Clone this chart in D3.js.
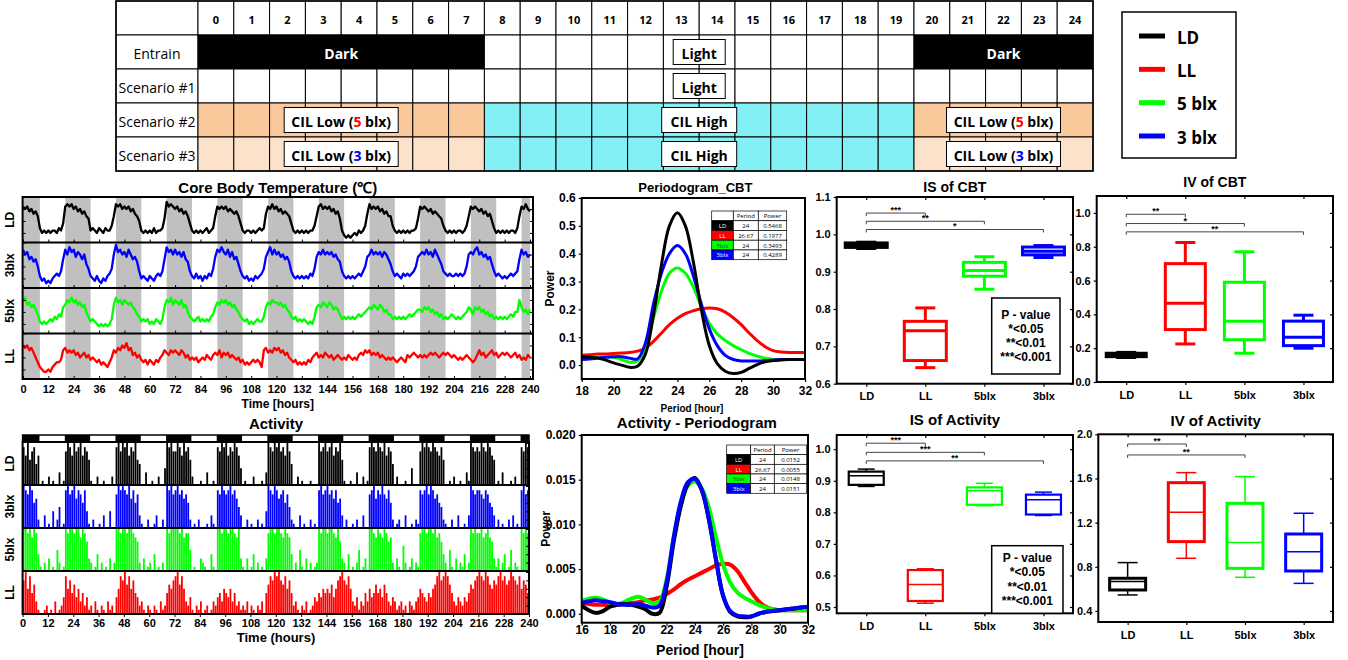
<!DOCTYPE html>
<html><head><meta charset="utf-8">
<script src="https://cdn.jsdelivr.net/npm/d3@7"></script>
<style>body{margin:0;background:#fff}svg{display:block}</style>
</head><body><svg id="c" width="1348" height="660"></svg>
<script>
// ---------------- DATA ----------------
const groups = ["LD","LL","5blx","3blx"];
const rowGroups = ["LD","3blx","5blx","LL"];
const groupColor = {"LD":"#000000","LL":"#ff0000","5blx":"#00ff00","3blx":"#0000ff"};

// protocol table
const tableHours = ["0","1","2","3","4","5","6","7","8","9","10","11","12","13","14","15","16","17","18","19","20","21","22","23","24"];
const hourPhase = ["D","D","D","D","D","D","D","D","L","L","L","L","L","L","L","L","L","L","L","L","D","D","D","D","D"];
const tableRows = ["Entrain","Scenario #1","Scenario #2","Scenario #3"];
const legendLabels = ["LD","LL","5 blx","3 blx"];

// dark periods (hours) for time-series panels
const darkSpans = [[0,8],[20,32],[44,56],[68,80],[92,104],[116,128],[140,152],[164,176],[188,200],[212,224],[236,240]];
const timeTicks = [0,12,24,36,48,60,72,84,96,108,120,132,144,156,168,180,192,204,216,228,240];

// core body temperature, hourly (°C)
const cbtLD = [
37.6,37.5,37.6,37.4,37.5,37.3,37.4,37.2,36.7,36.5,36.6,36.5,
36.6,36.5,36.6,36.6,36.5,36.7,36.6,36.9,37.6,37.7,37.6,37.7,
37.5,37.6,37.4,37.5,37.3,37.4,37.2,37.1,36.6,36.7,36.6,36.5,
36.7,36.6,36.5,36.7,36.6,36.6,36.8,37.2,37.7,37.6,37.7,37.5,
37.6,37.5,37.6,37.4,37.5,37.3,37.2,37.0,36.6,36.5,36.6,36.5,
36.6,36.5,36.7,36.5,36.6,36.6,36.7,37.1,37.8,37.6,37.7,37.6,
37.5,37.6,37.4,37.5,37.3,37.4,37.2,36.9,36.6,36.5,36.6,36.5,
36.6,36.5,36.6,36.7,36.5,36.6,36.7,37.2,37.6,37.5,37.6,37.5,
37.6,37.4,37.5,37.4,37.3,37.4,37.2,36.9,36.6,36.5,36.6,36.6,
36.5,36.6,36.5,36.6,36.7,36.6,36.7,37.3,37.6,37.5,37.7,37.5,
37.6,37.4,37.5,37.3,37.4,37.3,37.2,36.9,36.6,36.5,36.6,36.5,
36.6,36.5,36.6,36.5,36.6,36.6,36.8,37.2,37.6,37.7,37.5,37.6,
37.5,37.6,37.4,37.5,37.3,37.4,37.1,36.6,36.4,36.3,36.4,36.3,
36.4,36.5,36.4,36.6,36.5,36.6,36.8,37.3,37.7,37.5,37.6,37.5,
37.6,37.4,37.5,37.3,37.4,37.2,37.2,36.8,36.6,36.5,36.6,36.5,
36.6,36.5,36.6,36.5,36.6,36.6,36.7,37.1,37.6,37.5,37.6,37.5,
37.4,37.5,37.3,37.4,37.3,37.2,37.1,36.8,36.6,36.5,36.6,36.5,
36.6,36.5,36.6,36.6,36.5,36.6,36.8,37.2,37.6,37.5,37.6,37.5,
37.4,37.5,37.3,37.4,37.2,37.3,37.0,36.7,36.5,36.6,36.5,36.6,
36.5,36.6,36.5,36.6,36.6,36.5,36.7,37.2,37.6,37.5,37.7,37.5,
37.4];
const cbt3blx = [
37.7,37.5,37.6,37.3,37.4,37.2,37.3,37.0,36.6,36.4,36.5,36.3,
36.4,36.3,36.5,36.6,36.7,36.6,36.8,37.3,37.7,37.5,37.8,37.6,
37.7,37.4,37.6,37.5,37.3,37.5,37.1,36.9,36.6,36.5,36.4,36.6,
36.4,36.3,36.5,36.4,36.6,36.7,36.9,37.5,37.9,37.6,37.7,37.5,
37.6,37.4,37.7,37.5,37.3,37.4,37.2,36.8,36.5,36.6,36.5,36.4,
36.6,36.5,36.4,36.6,36.7,36.6,36.8,37.3,37.8,37.6,37.7,37.5,
37.7,37.5,37.6,37.4,37.6,37.3,37.2,36.8,36.6,36.5,36.7,36.5,
36.6,36.4,36.6,36.5,36.7,36.6,36.9,37.4,37.7,37.6,37.8,37.6,
37.5,37.7,37.4,37.6,37.3,37.4,37.1,36.8,36.6,36.5,36.6,36.4,
36.5,36.4,36.6,36.5,36.6,36.7,36.9,37.4,37.6,37.8,37.5,37.7,
37.5,37.6,37.4,37.5,37.3,37.4,37.2,36.8,36.6,36.5,36.6,36.5,
36.6,36.5,36.6,36.5,36.7,36.6,36.9,37.4,37.6,37.5,37.7,37.5,
37.6,37.5,37.6,37.4,37.5,37.3,37.2,36.8,36.6,36.5,36.6,36.5,
36.6,36.5,36.6,36.7,36.6,36.8,37.0,37.4,37.5,37.7,37.5,37.6,
37.5,37.6,37.4,37.6,37.5,37.3,37.1,36.8,36.6,36.7,36.6,36.5,
36.7,36.6,36.7,36.6,36.7,36.8,37.0,37.4,37.5,37.6,37.5,37.7,
37.5,37.6,37.4,37.7,37.5,37.3,37.1,36.8,36.7,36.6,36.7,36.6,
36.6,36.7,36.6,36.7,36.6,36.7,37.0,37.5,37.6,37.5,37.7,37.8,
37.5,37.6,37.4,37.5,37.3,37.4,37.1,36.8,36.6,36.7,36.6,36.5,
36.6,36.5,36.6,36.7,36.6,36.7,36.8,37.3,37.7,37.5,37.6,37.4,
37.5];
const cbt5blx = [
37.5,37.6,37.3,37.4,37.2,37.3,37.1,36.9,36.6,36.5,36.6,36.5,
36.6,36.7,36.6,36.8,36.7,36.9,36.8,37.2,37.3,37.5,37.4,37.6,
37.4,37.5,37.3,37.4,37.2,37.3,37.0,36.8,36.6,36.7,36.6,36.5,
36.4,36.5,36.4,36.5,36.4,36.5,36.7,37.3,37.6,37.4,37.5,37.3,
37.5,37.4,37.3,37.4,37.2,37.1,36.9,36.8,36.6,36.7,36.6,36.7,
36.5,36.6,36.5,36.7,36.6,36.5,36.7,37.2,37.5,37.4,37.6,37.3,
37.5,37.4,37.3,37.5,37.2,37.3,37.0,36.8,36.7,36.6,36.7,36.8,
36.6,36.7,36.6,36.7,36.6,36.8,36.9,37.2,37.4,37.3,37.5,37.4,
37.5,37.3,37.4,37.2,37.3,37.1,37.0,36.8,36.7,36.6,36.7,36.5,
36.6,36.5,36.6,36.7,36.6,36.6,36.8,37.2,37.4,37.3,37.5,37.4,
37.4,37.3,37.4,37.2,37.3,37.1,37.0,36.8,36.7,36.8,36.6,36.7,
36.6,36.7,36.6,36.5,36.6,36.5,36.8,37.2,37.3,37.2,37.4,37.3,
37.2,37.4,37.3,37.1,37.2,37.1,36.9,36.7,36.8,36.7,36.8,36.7,
36.8,36.7,36.8,36.9,36.8,36.9,37.0,37.1,37.2,37.1,37.3,37.2,
37.1,37.3,37.2,37.0,37.1,36.9,36.9,36.7,36.8,36.7,36.8,36.7,
36.8,36.7,36.8,36.9,36.8,36.9,37.0,37.1,37.1,37.0,37.2,37.1,
37.2,37.0,37.1,36.9,37.0,36.8,36.9,36.7,36.8,36.7,36.8,36.9,
36.8,36.7,36.8,36.7,36.8,36.9,37.0,37.2,37.1,36.9,37.2,37.1,
37.2,37.0,37.1,36.9,37.0,36.8,36.9,36.7,36.8,36.7,36.8,36.7,
36.8,36.7,36.8,36.9,36.8,37.0,37.0,37.5,37.2,37.0,37.1,36.9,
37.1];
const cbtLL = [
37.5,37.4,37.5,37.3,37.4,37.2,37.0,36.8,36.6,36.5,36.4,36.4,
36.5,36.4,36.6,36.7,36.8,36.8,36.9,37.3,37.4,37.2,37.3,37.2,
37.3,37.1,37.2,37.0,37.1,37.2,37.0,37.1,36.9,37.0,36.9,36.8,
36.9,36.7,36.8,36.7,36.6,36.8,37.0,37.3,37.2,37.4,37.3,37.5,
37.4,37.6,37.3,37.4,37.1,37.2,37.0,37.1,36.9,36.8,36.9,36.7,
36.9,36.8,36.7,36.9,36.8,37.0,37.1,37.3,37.2,37.1,37.3,37.2,
37.3,37.2,37.1,37.3,37.2,37.0,37.1,36.9,37.0,36.9,37.0,36.8,
36.9,37.0,36.9,37.1,37.0,36.9,37.1,37.2,37.1,37.3,37.0,37.2,
37.1,37.2,37.0,37.1,37.0,36.9,37.0,36.8,36.9,36.7,36.8,36.7,
36.8,36.9,36.8,36.9,36.8,36.6,37.3,37.4,37.2,37.3,37.2,37.4,
37.3,37.4,37.2,37.3,37.1,37.2,37.0,36.9,36.8,36.9,36.7,36.8,
36.7,36.8,36.7,36.9,36.8,37.0,37.1,37.2,37.0,37.1,37.0,37.2,
37.1,37.0,37.1,36.9,37.0,37.1,37.0,36.9,37.0,36.9,37.1,37.0,
36.9,37.0,36.9,37.1,37.2,37.1,37.3,37.2,37.3,37.1,37.2,37.1,
37.2,37.0,37.1,37.0,36.9,37.0,36.9,37.0,36.9,36.8,36.9,37.0,
36.9,36.8,37.1,37.0,37.1,37.2,37.1,37.0,37.1,37.0,37.1,37.0,
37.1,37.2,37.1,37.2,37.1,37.0,37.1,37.2,37.1,37.2,37.1,37.0,
37.1,37.0,36.9,37.0,36.9,37.0,37.1,37.0,36.9,36.8,36.9,37.1,
37.3,37.1,37.2,37.0,37.1,37.2,37.3,37.1,37.2,37.0,37.1,37.2,
37.1,37.2,37.1,37.0,37.1,37.2,37.0,37.1,36.9,37.0,36.9,37.1,
37.0];

// activity counts per hour (a.u., 0-10)
const actLD = [
9,7,10,6,8,9,5,7,0,1,0,0,2,0,1,0,0,3,0,1,8,10,9,7,
10,8,9,10,7,9,8,6,1,0,0,2,0,0,1,0,0,0,2,0,9,10,8,10,
9,10,7,9,8,10,6,5,0,0,3,0,0,1,0,0,2,0,0,4,10,9,10,8,
8,10,9,7,10,8,9,6,2,0,0,0,1,0,0,3,0,0,1,0,9,8,10,9,
10,7,9,8,10,9,7,4,0,1,0,0,0,2,0,0,0,1,0,3,10,9,8,10,
9,10,8,9,7,10,8,5,0,0,2,0,1,0,0,0,1,0,0,0,10,8,9,10,
8,9,10,7,9,8,10,6,1,0,0,1,0,0,3,0,0,2,0,1,9,10,9,8,
10,9,8,10,7,9,8,5,0,2,0,0,0,1,0,0,4,0,0,0,8,10,9,10,
9,8,10,9,8,7,9,6,0,0,1,0,2,0,0,1,0,0,3,1,10,9,8,9,
8,10,9,8,10,9,7,6,0,1,0,3,0,0,0,1,0,2,0,0,9,8,10,9];
const act3blx = [
10,9,8,10,9,6,7,2,0,0,3,0,1,0,4,0,2,5,0,1,9,10,8,9,
10,7,9,8,6,9,4,1,0,2,0,0,1,0,3,0,0,4,0,0,8,10,9,10,
9,8,10,7,9,6,8,3,1,0,0,2,0,0,1,3,0,0,2,0,10,9,10,8,
9,10,8,9,7,8,6,2,0,1,0,2,0,0,0,1,0,3,1,0,9,8,10,9,
8,9,10,8,9,7,5,3,0,0,2,0,1,0,0,2,0,1,0,4,10,9,8,10,
9,7,8,9,6,8,5,2,1,0,0,3,0,1,0,0,2,0,1,0,9,10,8,9,
10,8,9,7,9,6,7,3,0,2,0,0,1,0,2,0,0,3,0,0,8,9,10,7,
9,8,10,8,7,9,6,2,0,1,2,0,0,3,0,0,1,0,2,1,9,8,9,10,
8,10,9,7,8,6,5,2,1,0,0,2,0,0,3,0,0,1,0,3,10,9,8,9,
9,8,7,9,8,6,5,3,0,2,0,1,0,0,2,0,3,0,1,0,9,10,8,9];
const act5blx = [
10,10,9,10,8,10,9,4,1,0,2,0,3,0,1,0,5,2,0,1,10,9,10,10,
9,10,10,8,10,9,7,3,2,0,1,4,0,2,0,1,0,3,0,2,10,10,9,10,
10,9,10,10,9,8,7,2,0,3,0,1,2,0,4,0,1,0,2,0,10,9,10,10,
10,10,9,10,8,9,9,5,0,1,0,0,3,2,1,0,0,4,1,0,10,10,9,10,
10,9,10,10,9,8,10,3,1,0,3,0,1,4,0,2,0,1,0,3,9,10,10,9,
10,10,9,8,10,9,8,4,0,2,0,5,1,0,3,0,2,0,1,2,10,9,10,10,
9,10,10,9,8,10,7,3,2,0,4,0,1,0,2,5,0,1,3,0,10,10,9,8,
10,9,8,10,9,7,8,2,0,3,1,0,6,2,0,1,3,0,2,1,9,10,10,9,
10,10,9,10,8,9,7,4,2,0,5,1,0,3,0,2,1,4,0,2,10,9,10,9,
9,10,8,9,10,8,7,3,1,3,0,2,4,0,1,5,0,2,1,0,10,9,10,9];
const actLL = [
8,10,6,9,5,7,3,1,0,0,1,2,0,1,0,3,0,1,2,4,9,6,8,5,
7,4,6,3,5,2,4,1,2,0,3,1,0,2,1,0,3,1,2,0,4,6,9,8,
10,7,9,6,8,5,4,2,3,1,0,2,1,0,2,1,0,3,1,2,5,7,6,8,
9,10,7,9,6,3,2,4,1,0,2,1,3,0,1,2,0,1,3,2,4,5,3,6,
5,4,6,3,5,2,3,1,2,1,3,0,2,1,0,2,1,3,0,5,7,9,8,10,
9,10,8,7,9,6,8,5,2,3,1,0,2,1,3,0,1,2,4,3,5,4,6,5,
6,5,7,4,6,8,9,10,8,7,9,6,3,2,4,1,3,2,5,3,6,4,5,7,
5,6,4,7,5,3,2,4,3,1,2,3,1,2,0,3,2,1,3,4,6,5,4,3,
5,4,6,7,9,10,8,9,10,9,7,5,3,2,4,3,2,4,3,5,7,6,8,9,
10,9,8,10,9,7,6,8,7,9,10,8,9,7,8,10,9,8,7,9,6,8,7,5];

// periodograms
const cbtPeriods = [18,18.5,19,19.5,20,20.5,21,21.5,22,22.5,23,23.5,24,24.5,25,25.5,26,26.5,27,27.5,28,28.5,29,29.5,30,30.5,31,31.5,32];
const cbtPowLD   = [0.030,0.028,0.025,0.018,0.008,0.000,-0.008,-0.004,0.040,0.180,0.360,0.500,0.547,0.500,0.370,0.200,0.070,0.005,-0.022,-0.030,-0.026,-0.012,0.002,0.012,0.016,0.018,0.020,0.020,0.020];
const cbtPowLL   = [0.035,0.037,0.040,0.040,0.042,0.043,0.045,0.050,0.060,0.085,0.115,0.145,0.168,0.185,0.195,0.202,0.205,0.202,0.190,0.170,0.145,0.115,0.088,0.066,0.052,0.047,0.045,0.045,0.045];
const cbtPow5blx = [0.025,0.027,0.030,0.030,0.028,0.020,0.010,0.015,0.065,0.170,0.265,0.330,0.349,0.330,0.280,0.210,0.150,0.112,0.088,0.070,0.055,0.042,0.032,0.025,0.020,0.020,0.020,0.020,0.020];
const cbtPow3blx = [0.020,0.022,0.025,0.028,0.030,0.030,0.025,0.022,0.080,0.220,0.330,0.400,0.429,0.400,0.320,0.220,0.130,0.070,0.035,0.020,0.015,0.015,0.015,0.016,0.018,0.020,0.020,0.020,0.020];
const cbtPeakTable = [["LD","24","0.5468"],["LL","26.67","0.1977"],["5blx","24","0.3493"],["3blx","24","0.4289"]];

const actPeriods = [16,16.5,17,17.5,18,18.5,19,19.5,20,20.5,21,21.5,22,22.5,23,23.5,24,24.5,25,25.5,26,26.5,27,27.5,28,28.5,29,29.5,30,30.5,31,31.5,32];
const actPowLD   = [0.0009,0.0004,0.0001,0.0003,0.0008,0.0010,0.0011,0.0010,0.0008,0.0005,0.0000,0.0001,0.0030,0.0080,0.0120,0.0145,0.0152,0.0138,0.0105,0.0060,0.0020,0.0002,-0.0003,-0.0004,-0.0003,0.0000,0.0002,0.0003,0.0004,0.0005,0.0006,0.0007,0.0008];
const actPowLL   = [0.0012,0.0011,0.0010,0.0010,0.0009,0.0010,0.0011,0.0012,0.0013,0.0015,0.0016,0.0018,0.0022,0.0027,0.0033,0.0038,0.0042,0.0046,0.0050,0.0054,0.0056,0.0055,0.0048,0.0036,0.0024,0.0014,0.0008,0.0005,0.0004,0.0004,0.0004,0.0004,0.0004];
const actPow5blx = [0.0014,0.0017,0.0018,0.0016,0.0012,0.0011,0.0013,0.0017,0.0019,0.0016,0.0012,0.0014,0.0038,0.0085,0.0122,0.0143,0.0148,0.0140,0.0118,0.0085,0.0055,0.0035,0.0024,0.0018,0.0014,0.0010,0.0007,0.0005,0.0004,0.0004,0.0004,0.0004,0.0004];
const actPow3blx = [0.0012,0.0014,0.0015,0.0014,0.0013,0.0011,0.0010,0.0010,0.0011,0.0009,0.0007,0.0009,0.0035,0.0085,0.0125,0.0147,0.0151,0.0138,0.0105,0.0060,0.0020,0.0003,-0.0002,-0.0003,-0.0003,0.0000,0.0002,0.0003,0.0004,0.0005,0.0006,0.0007,0.0008];
const actPeakTable = [["LD","24","0.0152"],["LL","26.67","0.0055"],["5blx","24","0.0148"],["3blx","24","0.0151"]];

// box plots: [min, q1, median, q3, max] in order LD, LL, 5blx, 3blx
const isCBT = [[0.962,0.965,0.971,0.977,0.979],[0.643,0.662,0.742,0.767,0.803],[0.853,0.888,0.903,0.925,0.940],[0.938,0.945,0.955,0.966,0.970]];
const ivCBT = [[0.145,0.150,0.160,0.170,0.175],[0.225,0.310,0.465,0.700,0.825],[0.170,0.250,0.360,0.590,0.770],[0.200,0.215,0.265,0.360,0.395]];
const isAct = [[0.882,0.887,0.916,0.929,0.937],[0.512,0.519,0.571,0.617,0.621],[0.821,0.824,0.868,0.879,0.892],[0.790,0.793,0.840,0.856,0.864]];
const ivAct = [[0.545,0.590,0.666,0.696,0.838],[0.877,1.028,1.294,1.562,1.653],[0.705,0.786,1.019,1.375,1.617],[0.650,0.762,0.937,1.097,1.285]];
// significance: [compared group, bar level, stars]
const isCBTSig = [["LL",1.057,"***"],["5blx",1.035,"**"],["3blx",1.013,"*"]];
const ivCBTSig = [["LL",0.992,"**"],["5blx",0.937,"*"],["3blx",0.888,"**"]];
const isActSig = [["LL",1.019,"***"],["5blx",0.990,"***"],["3blx",0.963,"**"]];
const ivActSig = [["LL",1.912,"**"],["5blx",1.813,"**"]];
const pValueLines = ["P - value","*<0.05","**<0.01","***<0.001"];

// ---------------- DRAWING ----------------
const svg = d3.select("#c");
const FONT = "'Liberation Sans', Arial, sans-serif";
const TFONT = "'Open Sans', 'Noto Sans', sans-serif";

function txt(g, x, y, s, size, opts={}) {
  return g.append("text").attr("x",x).attr("y",y).text(s)
    .attr("font-family",opts.family||FONT).attr("font-size",size)
    .attr("font-weight",opts.weight||"bold").attr("fill",opts.fill||"#000")
    .attr("text-anchor",opts.anchor||"middle").attr("dominant-baseline",opts.base||"central");
}
function styleAxis(g, size, sw=1.5) {
  g.select(".domain").remove();
  g.selectAll("text").attr("font-family",FONT).attr("font-weight","bold").attr("font-size",size).attr("fill","#000");
  g.selectAll("line").attr("stroke","#000").attr("stroke-width",sw);
}

// ===== protocol table =====
(function(){
  const g = svg.append("g");
  const hx = d3.scaleBand().domain(tableHours).range([198,1093]);
  const hLin = d3.scaleLinear().domain([0,25]).range([198,1093]);
  const ry = d3.scaleBand().domain(["hdr",...tableRows]).range([1,171]);
  const fills = {
    "Entrain":{D:"#000000",L:"#ffffff"},
    "Scenario #1":{D:"#ffffff",L:"#ffffff"},
    "Scenario #2":{D:"#fac99b",L:"#82f0f5"},
    "Scenario #3":{D:"#fde2cb",L:"#82f0f5"}
  };
  ["hdr",...tableRows].forEach(r=>{
    g.append("rect").attr("x",116).attr("y",ry(r)).attr("width",82).attr("height",ry.bandwidth())
      .attr("fill","#fff").attr("stroke","#000").attr("stroke-width",1);
  });
  tableHours.forEach((h,i)=>{
    g.append("rect").attr("x",hx(h)).attr("y",ry("hdr")).attr("width",hx.bandwidth()).attr("height",ry.bandwidth())
      .attr("fill","#fff").attr("stroke","#000").attr("stroke-width",1);
    txt(g, hx(h)+hx.bandwidth()/2, ry("hdr")+ry.bandwidth()/2+1, h, 11, {family:TFONT});
    tableRows.forEach(r=>{
      g.append("rect").attr("x",hx(h)).attr("y",ry(r)).attr("width",hx.bandwidth()).attr("height",ry.bandwidth())
        .attr("fill",fills[r][hourPhase[i]]).attr("stroke","#000").attr("stroke-width",1);
    });
  });
  tableRows.forEach(r=>{
    txt(g, 157, ry(r)+ry.bandwidth()/2+1, r, 14, {family:TFONT, weight:"normal"});
  });
  g.append("rect").attr("x",116).attr("y",1).attr("width",977).attr("height",170)
    .attr("fill","none").attr("stroke","#000").attr("stroke-width",1.5);
  function tag(row, center, w, parts, boxed, color) {
    const cx = hLin(center), cy = ry(row)+ry.bandwidth()/2;
    if (boxed) g.append("rect").attr("x",cx-w/2).attr("y",cy-12.5).attr("width",w).attr("height",25)
      .attr("fill","#fff").attr("stroke","#000").attr("stroke-width",1);
    const t = g.append("text").attr("x",cx).attr("y",cy+1).attr("text-anchor","middle").attr("dominant-baseline","central")
      .attr("font-family",TFONT).attr("font-weight","bold").attr("font-size",14).attr("fill",color||"#000");
    parts.forEach(p=>t.append("tspan").text(p[0]).attr("fill",p[1]||color||"#000"));
  }
  tag("Entrain",4,0,[["Dark"]],false,"#fff");
  tag("Entrain",22.5,0,[["Dark"]],false,"#fff");
  tag("Entrain",14,52,[["Light"]],true);
  tag("Scenario #1",14,52,[["Light"]],true);
  tag("Scenario #2",4,114,[["CIL Low ("],["5","#ff0000"],[" blx)"]],true);
  tag("Scenario #2",14,75,[["CIL High"]],true);
  tag("Scenario #2",22.5,114,[["CIL Low ("],["5","#ff0000"],[" blx)"]],true);
  tag("Scenario #3",4,114,[["CIL Low ("],["3","#0000ff"],[" blx)"]],true);
  tag("Scenario #3",14,75,[["CIL High"]],true);
  tag("Scenario #3",22.5,114,[["CIL Low ("],["3","#0000ff"],[" blx)"]],true);
})();

// ===== legend =====
(function(){
  const g = svg.append("g");
  g.append("rect").attr("x",1122).attr("y",12).attr("width",114).attr("height",146)
    .attr("fill","#fff").attr("stroke","#000").attr("stroke-width",1.5);
  const ly = d3.scalePoint().domain(groups).range([36,136]);
  groups.forEach((k,i)=>{
    g.append("line").attr("x1",1139).attr("x2",1165).attr("y1",ly(k)).attr("y2",ly(k))
      .attr("stroke",groupColor[k]).attr("stroke-width",5);
    txt(g,1177,ly(k)+1,legendLabels[i],17,{family:TFONT,anchor:"start"});
  });
})();

// ===== Core body temperature =====
(function(){
  const g = svg.append("g");
  const L=22.6, R=533, T=197, B=379;
  const x = d3.scaleLinear().domain([0,240]).range([23,530]);
  const rows = d3.scaleBand().domain(rowGroups).range([T,B]);
  txt(g,(L+R)/2,187,"Core Body Temperature (℃)",15);
  darkSpans.forEach(s=>g.append("rect").attr("x",x(s[0])).attr("y",T).attr("width",Math.min(x(s[1]),R)-x(s[0])).attr("height",B-T).attr("fill","#c0c0c0"));
  const series = {"LD":cbtLD,"3blx":cbt3blx,"5blx":cbt5blx,"LL":cbtLL};
  rowGroups.forEach(k=>{
    const y = d3.scaleLinear().domain([36.1,38.0]).range([rows(k)+rows.bandwidth(), rows(k)]);
    const line = d3.line().x((d,i)=>x(i)).y(d=>y(d));
    g.append("path").attr("d",line(series[k])).attr("fill","none").attr("stroke",groupColor[k]).attr("stroke-width",2.3).attr("stroke-linejoin","round");
    const ay = g.append("g").attr("transform",`translate(${L},0)`).call(d3.axisLeft(y).ticks(3).tickFormat("").tickSize(-3)); styleAxis(ay,10,1);
    const ay2 = g.append("g").attr("transform",`translate(${R},0)`).call(d3.axisRight(y).ticks(3).tickFormat("").tickSize(-3)); styleAxis(ay2,10,1);
    const ax = g.append("g").attr("transform",`translate(0,${rows(k)+rows.bandwidth()})`).call(d3.axisBottom(x).tickValues(timeTicks).tickFormat("").tickSize(-3)); styleAxis(ax,10,1);
    g.append("text").attr("transform",`translate(10,${rows(k)+rows.bandwidth()/2}) rotate(-90)`).text(k)
      .attr("text-anchor","middle").attr("dominant-baseline","central").attr("font-family",FONT).attr("font-weight","bold").attr("font-size",12);
    g.append("line").attr("x1",L).attr("x2",R).attr("y1",rows(k)).attr("y2",rows(k)).attr("stroke","#000").attr("stroke-width",2);
  });
  g.append("rect").attr("x",L).attr("y",T).attr("width",R-L).attr("height",B-T).attr("fill","none").attr("stroke","#000").attr("stroke-width",2);
  const bx = g.append("g").attr("transform",`translate(0,${B})`).call(d3.axisBottom(x).tickValues(timeTicks).tickSize(0).tickPadding(6));
  styleAxis(bx,11);
  txt(g,(L+R)/2,404,"Time [hours]",12);
})();

// ===== Activity =====
(function(){
  const g = svg.append("g");
  const L=22.6, R=529, T=442, B=614;
  const x = d3.scaleLinear().domain([0,240]).range([L,R]);
  const rows = d3.scaleBand().domain(rowGroups).range([T,B]);
  txt(g,276,423,"Activity",15);
  g.append("rect").attr("x",L).attr("y",435).attr("width",R-L).attr("height",7).attr("fill","#fff").attr("stroke","#000").attr("stroke-width",1.5);
  darkSpans.forEach(s=>g.append("rect").attr("x",x(s[0])).attr("y",435).attr("width",x(s[1])-x(s[0])).attr("height",7).attr("fill","#000"));
  const series = {"LD":actLD,"3blx":act3blx,"5blx":act5blx,"LL":actLL};
  rowGroups.forEach(k=>{
    const y = d3.scaleLinear().domain([0,10]).range([rows(k)+rows.bandwidth(), rows(k)+1]);
    g.selectAll(null).data(series[k]).join("rect")
      .attr("x",(d,i)=>x(i)+0.15).attr("width",1.8)
      .attr("y",d=>y(d)).attr("height",d=>y(0)-y(d)).attr("fill",groupColor[k]);
    g.append("line").attr("x1",L).attr("x2",R).attr("y1",rows(k)).attr("y2",rows(k)).attr("stroke","#000").attr("stroke-width",2);
    const ay = g.append("g").attr("transform",`translate(${R},0)`).call(d3.axisRight(y).ticks(4).tickFormat("").tickSize(-3)); styleAxis(ay,10,1);
    g.append("text").attr("transform",`translate(10,${rows(k)+rows.bandwidth()/2}) rotate(-90)`).text(k)
      .attr("text-anchor","middle").attr("dominant-baseline","central").attr("font-family",FONT).attr("font-weight","bold").attr("font-size",12);
  });
  g.append("rect").attr("x",L).attr("y",T).attr("width",R-L).attr("height",B-T).attr("fill","none").attr("stroke","#000").attr("stroke-width",2);
  const bx = g.append("g").attr("transform",`translate(0,${B})`).call(d3.axisBottom(x).tickValues(timeTicks).tickSize(3).tickPadding(2));
  styleAxis(bx,11,1);
  txt(g,276,637,"Time (hours)",13);
})();

// ===== periodograms =====
function periodogram(c){
  const g = svg.append("g");
  const x = d3.scaleLinear().domain(c.xdom).range([c.L,c.R]);
  const y = d3.scaleLinear().domain(c.ydom).range([c.B,c.T]);
  const id = "clip"+c.name;
  svg.append("clipPath").attr("id",id).append("rect").attr("x",c.L).attr("y",c.T).attr("width",c.R-c.L).attr("height",c.B-c.T);
  txt(g,(c.L+c.R)/2+2,c.titleY,c.title,c.titleSize);
  const line = d3.line().x((d,i)=>x(c.periods[i])).y(d=>y(d)).curve(d3.curveCatmullRom);
  c.series.forEach(s=>{
    g.append("path").attr("clip-path",`url(#${id})`).attr("d",line(s[1])).attr("fill","none")
      .attr("stroke",groupColor[s[0]]).attr("stroke-width",c.sw).attr("stroke-linejoin","round");
  });
  g.append("rect").attr("x",c.L).attr("y",c.T).attr("width",c.R-c.L).attr("height",c.B-c.T).attr("fill","none").attr("stroke","#000").attr("stroke-width",2);
  const ay = g.append("g").attr("transform",`translate(${c.L},0)`).call(d3.axisLeft(y).tickValues(c.yticks).tickFormat(c.yfmt).tickSize(3).tickPadding(3));
  styleAxis(ay,c.tickSize,1.2);
  const ax = g.append("g").attr("transform",`translate(0,${c.B})`).call(d3.axisBottom(x).tickValues(c.xticks).tickSize(3).tickPadding(c.xpad));
  styleAxis(ax,c.xtickSize,1.2);
  txt(g,c.xlabX,c.xlabY,"Period [hour]",c.xlabSize);
  g.append("text").attr("transform",`translate(${c.ylabX},${(c.T+c.B)/2}) rotate(-90)`).text("Power")
    .attr("text-anchor","middle").attr("dominant-baseline","central").attr("font-family",FONT).attr("font-weight","bold").attr("font-size",12);
  const it = c.inset, cols=[it.x, it.x+it.cw[0], it.x+it.cw[0]+it.cw[1]];
  const rowsY = d3.scaleBand().domain(["h",...groups]).range([it.y, it.y+it.h]);
  const head = ["","Period","Power"];
  ["h",...groups].forEach((r,ri)=>{
    for(let ci=0;ci<3;ci++){
      const fill = (ci===0 && r!=="h") ? groupColor[r] : "#fff";
      g.append("rect").attr("x",cols[ci]).attr("y",rowsY(r)).attr("width",it.cw[ci]).attr("height",rowsY.bandwidth())
        .attr("fill",fill).attr("stroke","#000").attr("stroke-width",0.7);
      const s = r==="h" ? head[ci] : c.peak[ri-1][ci];
      const col = (ci===0) ? (r==="5blx" ? "#225522" : "#fff") : "#000";
      txt(g, cols[ci]+it.cw[ci]/2, rowsY(r)+rowsY.bandwidth()/2+0.5, s, 6, {family:TFONT, weight:"normal", fill:col});
    }
  });
}
periodogram({name:"cbt", L:581.7, R:805, T:198, B:379, xdom:[18,32], ydom:[-0.05,0.6],
  xticks:[18,20,22,24,26,28,30,32], yticks:[0,0.1,0.2,0.3,0.4,0.5,0.6], yfmt:d3.format(".1f"),
  periods:cbtPeriods, series:[["LL",cbtPowLL],["5blx",cbtPow5blx],["3blx",cbtPow3blx],["LD",cbtPowLD]], sw:3,
  title:"Periodogram_CBT", titleY:187, titleSize:13, tickSize:12, xtickSize:12, xpad:4, xlabX:692, xlabY:408, xlabSize:10, ylabX:550,
  inset:{x:711.7, y:211, cw:[21.6,25,28.4], h:48.7}, peak:cbtPeakTable});
periodogram({name:"act", L:581.7, R:808, T:435, B:622.7, xdom:[16,32], ydom:[-0.001,0.020],
  xticks:[16,18,20,22,24,26,28,30,32], yticks:[0,0.005,0.010,0.015,0.020], yfmt:d3.format(".3f"),
  periods:actPeriods, series:[["LL",actPowLL],["5blx",actPow5blx],["LD",actPowLD],["3blx",actPow3blx]], sw:4,
  title:"Activity - Periodogram", titleY:422, titleSize:15, tickSize:12, xtickSize:12, xpad:0, xlabX:700, xlabY:650, xlabSize:14, ylabX:546,
  inset:{x:726.7, y:445, cw:[24,23.6,32.4], h:48.3}, peak:actPeakTable});

// ===== box plots =====
function boxPanel(c){
  const g = svg.append("g");
  const y = d3.scaleLinear().domain(c.ydom).range([c.B,c.T]);
  const x = d3.scalePoint().domain(groups).range([c.L,c.R]).padding(0.5);
  txt(g,(c.L+c.R)/2,c.titleY,c.title,c.titleSize);
  c.data.forEach((s,i)=>{
    const k = groups[i], cx = x(k), col = groupColor[k];
    const [mn,q1,md,q3,mx] = s;
    g.append("line").attr("x1",cx).attr("x2",cx).attr("y1",y(mx)).attr("y2",y(q3)).attr("stroke",col).attr("stroke-width",c.ww);
    g.append("line").attr("x1",cx).attr("x2",cx).attr("y1",y(q1)).attr("y2",y(mn)).attr("stroke",col).attr("stroke-width",c.ww);
    [mn,mx].forEach(v=>g.append("line").attr("x1",cx-c.capW/2).attr("x2",cx+c.capW/2).attr("y1",y(v)).attr("y2",y(v)).attr("stroke",col).attr("stroke-width",c.ww));
    g.append("rect").attr("x",cx-c.boxW/2).attr("y",y(q3)).attr("width",c.boxW).attr("height",Math.max(0.5,y(q1)-y(q3)))
      .attr("fill","none").attr("stroke",col).attr("stroke-width",c.bw);
    g.append("line").attr("x1",cx-c.boxW/2).attr("x2",cx+c.boxW/2).attr("y1",y(md)).attr("y2",y(md)).attr("stroke",col).attr("stroke-width",c.mw);
  });
  c.sig.forEach(s=>{
    const x1 = x("LD"), x2 = x(s[0]), yy = y(s[1]);
    g.append("path").attr("d",`M${x1},${yy+3}V${yy}H${x2}V${yy+3}`).attr("fill","none").attr("stroke","#444").attr("stroke-width",1);
    txt(g,(x1+x2)/2,yy-3,s[2],9);
  });
  g.append("rect").attr("x",c.L).attr("y",c.T).attr("width",c.R-c.L).attr("height",c.B-c.T).attr("fill","none").attr("stroke","#000").attr("stroke-width",2);
  const ay = g.append("g").attr("transform",`translate(${c.L},0)`).call(d3.axisLeft(y).tickValues(c.yticks).tickFormat(c.yfmt).tickSize(3).tickPadding(3));
  styleAxis(ay,11,1.2);
  const ay2 = g.append("g").attr("transform",`translate(${c.R},0)`).call(d3.axisRight(y).tickValues(c.yticks).tickFormat("").tickSize(-3));
  styleAxis(ay2,11,1.2);
  const ax = g.append("g").attr("transform",`translate(0,${c.B})`).call(d3.axisBottom(x).tickSize(3).tickPadding(6));
  styleAxis(ax,11,1.2);
  const at = g.append("g").attr("transform",`translate(0,${c.T})`).call(d3.axisTop(x).tickFormat("").tickSize(-3));
  styleAxis(at,11,1.2);
  if (c.pbox) {
    const p = c.pbox, step = 14.3, top = p.y + p.h/2 - step*1.5;
    g.append("rect").attr("x",p.x).attr("y",p.y).attr("width",p.w).attr("height",p.h).attr("fill","#fff").attr("stroke","#000").attr("stroke-width",1.5);
    pValueLines.forEach((s,i)=>txt(g,p.x+p.w/2,top+i*step,s,12,{family:FONT}));
  }
}
boxPanel({L:836.7, R:1073, T:197, B:383.7, ydom:[0.6,1.1], yticks:[0.6,0.7,0.8,0.9,1.0,1.1], yfmt:d3.format(".1f"),
  data:isCBT, sig:isCBTSig, title:"IS of CBT", titleY:187, titleSize:14, boxW:42, capW:20, bw:3, mw:3, ww:3,
  pbox:{x:991.7, y:298, w:68.3, h:76}});
boxPanel({L:1096.7, R:1333, T:196, B:382, ydom:[0,1.1], yticks:[0,0.2,0.4,0.6,0.8,1.0], yfmt:d3.format(".1f"),
  data:ivCBT, sig:ivCBTSig, title:"IV of CBT", titleY:182, titleSize:14, boxW:40, capW:20, bw:3, mw:3, ww:3});
boxPanel({L:836.7, R:1073, T:435, B:613.3, ydom:[0.48,1.045], yticks:[0.5,0.6,0.7,0.8,0.9,1.0], yfmt:d3.format(".1f"),
  data:isAct, sig:isActSig, title:"IS of Activity", titleY:419, titleSize:15, boxW:35, capW:17, bw:2.2, mw:1.5, ww:1.5,
  pbox:{x:991.7, y:545.7, w:71.3, h:67.6}});
boxPanel({L:1098.3, R:1333, T:434.3, B:622, ydom:[0.3,2.0], yticks:[0.4,0.8,1.2,1.6,2.0], yfmt:d3.format(".1f"),
  data:ivAct, sig:ivActSig, title:"IV of Activity", titleY:420, titleSize:15, boxW:36, capW:20, bw:3, mw:1.5, ww:1.5});
</script>
</body></html>
